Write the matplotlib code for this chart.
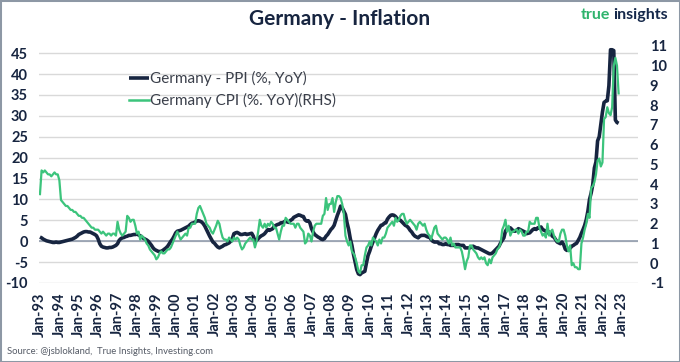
import matplotlib
matplotlib.use("Agg")
import matplotlib.pyplot as plt
from matplotlib.patches import Rectangle

# ---------------- data (monthly, Jan-93 onwards) ----------------
ppi_values = [
    1.0, 0.8, 0.5, 0.3, 0.1, 0.0, -0.1, -0.2, -0.3, -0.3, -0.2, -0.3,      # 1993
    -0.3, -0.2, -0.1, 0.0, 0.1, 0.2, 0.3, 0.4, 0.5, 0.7, 0.9, 1.2,         # 1994
    1.6, 1.8, 2.0, 2.2, 2.3, 2.3, 2.2, 2.2, 2.0, 1.8, 1.6, 1.3,            # 1995
    0.5, -0.6, -1.2, -1.4, -1.5, -1.6, -1.6, -1.5, -1.5, -1.4, -1.2, -1.0, # 1996
    -0.6, 0.2, 0.6, 0.8, 0.9, 1.1, 1.2, 1.4, 1.4, 1.5, 1.6, 1.6,           # 1997
    1.7, 1.5, 1.3, 1.0, 0.7, 0.5, 0.3, 0.0, -0.5, -1.0, -1.6, -2.0,        # 1998
    -2.2, -2.4, -2.5, -2.4, -2.2, -1.9, -1.6, -1.2, -0.6, 0.0, 0.5, 1.2,   # 1999
    2.0, 2.4, 2.5, 2.6, 2.8, 3.0, 3.2, 3.4, 3.6, 4.0, 4.3, 4.4,            # 2000
    4.6, 4.8, 4.9, 4.8, 4.6, 4.2, 3.6, 2.8, 2.0, 1.2, 0.5, -0.2,           # 2001
    -0.5, -1.0, -1.4, -1.6, -1.4, -1.2, -0.9, -0.8, -0.6, -0.4, 0.0, 0.6,  # 2002
    1.8, 2.0, 2.1, 1.9, 1.6, 1.6, 1.7, 1.8, 1.6, 1.7, 1.8, 1.9,            # 2003
    1.2, 0.0, 0.2, 0.6, 1.0, 1.3, 1.5, 1.8, 2.3, 2.8, 2.6, 2.8,            # 2004
    3.0, 3.6, 3.8, 4.0, 4.1, 4.4, 4.4, 4.6, 4.9, 4.6, 4.5, 5.0,            # 2005
    5.2, 5.7, 5.9, 6.1, 6.3, 6.2, 6.0, 5.9, 5.1, 4.8, 4.9, 4.4,            # 2006
    3.0, 2.2, 1.6, 1.3, 1.0, 0.8, 0.5, 0.4, 0.6, 1.2, 1.6, 2.2,            # 2007
    2.8, 3.2, 3.8, 5.0, 6.2, 7.2, 8.4, 8.0, 7.2, 6.4, 4.4, 2.8,            # 2008
    0.6, -1.0, -3.2, -5.0, -6.8, -7.8, -8.0, -7.6, -7.4, -7.2, -5.2, -3.4, # 2009
    -2.4, -1.2, -0.2, 0.8, 1.8, 2.6, 3.2, 3.8, 3.9, 4.3, 4.4, 5.3,         # 2010
    5.8, 6.2, 6.3, 6.2, 5.9, 5.4, 5.2, 5.0, 4.6, 4.2, 3.8, 3.6,            # 2011
    3.2, 2.6, 2.2, 1.6, 1.2, 1.0, 0.8, 1.2, 1.4, 1.4, 1.4, 1.2,            # 2012
    1.0, 1.0, 0.4, 0.0, -0.2, -0.2, -0.2, -0.6, -0.6, -0.8, -0.8, -0.6,    # 2013
    -0.8, -0.8, -1.0, -1.0, -1.0, -0.8, -0.8, -0.8, -1.0, -1.0, -1.0, -1.6,# 2014
    -1.6, -1.6, -1.6, -1.4, -1.2, -1.4, -1.6, -1.6, -1.8, -2.0, -2.2, -2.4,# 2015
    -2.6, -2.8, -3.0, -3.0, -2.8, -2.4, -2.0, -1.6, -1.2, -0.4, 0.2, 0.8,  # 2016
    2.4, 3.0, 3.0, 3.2, 2.8, 2.4, 2.4, 2.6, 3.0, 2.8, 2.6, 2.4,            # 2017
    2.2, 1.8, 1.9, 2.0, 2.4, 2.8, 3.0, 2.8, 3.2, 3.2, 3.4, 2.8,            # 2018
    2.6, 2.4, 2.0, 2.2, 1.9, 1.2, 1.0, 0.4, -0.2, -0.4, -0.6, -0.2,        # 2019
    -0.8, -1.9, -2.2, -1.8, -1.7, -1.2, -1.0, -0.7, -0.5, 0.2, 0.9, 1.9,   # 2020
    2.8, 3.8, 5.2, 7.2, 10.0, 11.5, 13.5, 17.5, 19.0, 24.0, 25.0, 28.0,    # 2021
    30.9, 33.2, 33.5, 33.6, 37.2, 45.8, 45.8, 45.6, 29.0, 28.4, 28.2,      # 2022
]

cpi_values = [
    3.5, 4.7, 4.6, 4.7, 4.6, 4.5, 4.5, 4.4, 4.5, 4.6, 4.5, 4.5,            # 1993
    4.2, 3.2, 3.1, 3.0, 2.9, 2.9, 2.8, 2.7, 2.7, 2.6, 2.6, 2.5,            # 1994
    2.4, 2.4, 2.3, 2.3, 2.2, 2.1, 2.0, 1.9, 1.8, 1.8, 1.7, 1.7,            # 1995
    1.7, 1.6, 1.5, 1.6, 1.5, 1.4, 1.5, 1.5, 1.4, 1.5, 1.5, 1.4,            # 1996
    2.1, 1.7, 1.5, 1.4, 1.5, 1.6, 2.4, 2.3, 2.1, 2.2, 2.2, 1.9,            # 1997
    1.5, 1.6, 1.2, 1.4, 1.3, 1.2, 1.0, 0.9, 0.7, 0.6, 0.5, 0.4,            # 1998
    0.2, 0.3, 0.5, 0.6, 0.5, 0.5, 0.6, 0.7, 0.7, 0.8, 1.0, 1.2,            # 1999
    1.4, 1.6, 1.4, 1.2, 1.3, 1.4, 1.5, 1.4, 1.8, 1.8, 2.0, 2.0,            # 2000
    2.0, 2.5, 2.8, 2.9, 2.7, 2.5, 2.3, 2.0, 1.9, 1.8, 1.6, 1.5,            # 2001
    1.7, 1.9, 2.15, 2.0, 1.6, 1.3, 1.2, 1.2, 1.1, 1.3, 1.2, 1.1,           # 2002
    1.3, 1.2, 1.3, 1.2, 0.9, 0.7, 0.8, 1.0, 1.1, 1.2, 1.3, 1.2,            # 2003
    1.2, 0.8, 1.1, 1.6, 2.2, 1.9, 1.8, 2.0, 1.8, 2.0, 1.9, 2.1,            # 2004
    2.0, 1.8, 1.8, 1.5, 1.2, 1.6, 1.9, 1.9, 2.3, 2.2, 2.1, 2.0,            # 2005
    2.0, 2.0, 1.8, 2.0, 2.0, 1.8, 1.7, 1.6, 1.0, 1.1, 1.5, 1.4,            # 2006
    1.1, 1.6, 1.9, 2.0, 2.0, 2.0, 2.0, 2.4, 2.5, 3.3, 2.7, 3.0,            # 2007
    3.0, 3.3, 2.6, 3.1, 3.4, 3.4, 3.3, 3.0, 2.5, 1.4, 1.1, 0.9,            # 2008
    1.1, 0.6, 0.5, 0.3, 0.0, -0.4, -0.5, -0.1, -0.1, 0.4, 0.8, 0.9,        # 2009
    1.1, 0.9, 1.3, 1.2, 1.1, 0.9, 1.2, 1.0, 1.3, 1.3, 1.5, 1.8,            # 2010
    1.9, 2.0, 2.1, 1.9, 2.3, 2.1, 2.2, 2.4, 2.5, 2.5, 2.2, 2.0,            # 2011
    2.1, 2.2, 2.1, 2.0, 1.9, 1.7, 2.0, 2.1, 2.0, 1.9, 2.0, 1.7,            # 2012
    1.5, 1.4, 1.2, 1.5, 1.8, 1.9, 1.5, 1.4, 1.3, 1.2, 1.3, 1.3,            # 2013
    1.2, 1.0, 1.3, 0.9, 1.0, 0.8, 0.8, 0.8, 0.8, 0.6, 0.2, -0.3,           # 2014
    0.1, 0.3, 0.9, 0.9, 0.7, 0.6, 0.5, 0.3, 0.2, 0.3, 0.2, 0.3,            # 2015
    0.0, -0.1, 0.2, 0.0, 0.3, 0.4, 0.5, 0.7, 0.8, 1.0, 1.7, 1.9,           # 2016
    2.2, 1.6, 1.9, 1.4, 1.6, 1.6, 1.7, 1.7, 1.5, 1.7, 1.6, 1.4,            # 2017
    1.4, 1.6, 1.6, 2.1, 2.0, 2.0, 2.0, 2.3, 2.3, 1.8, 1.6, 1.4,            # 2018
    1.5, 1.3, 2.0, 1.4, 1.6, 1.7, 1.4, 1.2, 1.1, 1.1, 1.5, 1.7,            # 2019
    1.7, 1.4, 0.9, 0.6, 0.9, -0.1, 0.0, -0.2, -0.2, -0.3, -0.3, 1.0,       # 2020
    1.3, 1.7, 2.0, 2.5, 2.3, 3.8, 3.9, 4.1, 4.5, 5.2, 5.3, 4.9,            # 2021
    5.1, 7.3, 7.4, 7.9, 7.6, 7.5, 7.9, 10.0, 10.4, 10.0, 8.6,              # 2022
]

tick_years = list(range(1993, 2024))
tick_labels = ["Jan-%02d" % (y % 100) for y in tick_years]
left_ticks = list(range(-10, 50, 5))
right_ticks = list(range(-1, 12))

ppi_label = "Germany - PPI (%, YoY)"
cpi_label = "Germany CPI (%. YoY)(RHS)"
title = "Germany - Inflation"
source = "Source: @jsblokland,  True Insights, Investing.com"

# ---------------- style ----------------
NAVY = "#172540"
GREEN = "#3cc47c"
GRID = "#d9d9d9"
ZERO = "#8a96a8"
FONT = "Lato"

W, H = 680, 362
fig = plt.figure(figsize=(W / 100, H / 100), dpi=100)
fig.patch.set_facecolor("white")

top_px, bot_px, left_px, right_px = 46, 283, 39, 638
ax = fig.add_axes([left_px / W, 1 - bot_px / H, (right_px - left_px) / W, (bot_px - top_px) / H])
ax2 = ax.twinx()

x_ppi = list(range(len(ppi_values)))
x_cpi = list(range(len(cpi_values)))

ax.set_ylim(-10, 46.7)
ax2.set_ylim(-1, 11)
ax.set_xlim(-0.6, 370)

ax.set_yticks(left_ticks)
ax.yaxis.grid(True, color=GRID, lw=1.0)
ax.set_axisbelow(True)
ax.axhline(0, color=ZERO, lw=1.1, zorder=1)

l1, = ax.plot(x_ppi, ppi_values, color=NAVY, lw=2.6, solid_joinstyle="round", solid_capstyle="butt", zorder=3)
l2, = ax2.plot(x_cpi, cpi_values, color=GREEN, lw=1.6, solid_joinstyle="round", zorder=3)

for a in (ax, ax2):
    for s in a.spines.values():
        s.set_visible(False)
    a.tick_params(length=0)

ax.set_xticks([12 * i for i in range(len(tick_labels))])
ax.set_xticklabels(tick_labels, rotation=90, fontsize=10.5, fontweight="bold", color=NAVY, family=FONT)
ax.tick_params(axis="x", pad=6.5)
ax.set_yticklabels([str(t) for t in left_ticks], fontsize=10.5, fontweight="bold", color=NAVY, family=FONT)
ax.tick_params(axis="y", pad=8)
ax2.set_yticks(right_ticks)
ax2.set_yticklabels([str(t) for t in right_ticks], fontsize=10.5, fontweight="bold", color=NAVY, family=FONT)
ax2.tick_params(axis="y", pad=8.5)

leg = ax.legend([l1, l2], [ppi_label, cpi_label], loc="upper left",
                bbox_to_anchor=(129 / W, 1 - 71 / H), bbox_transform=fig.transFigure,
                frameon=False, borderpad=0, borderaxespad=0, handlelength=1.3,
                handletextpad=0.1, labelspacing=0.45,
                prop={"family": FONT, "size": 11})
for t in leg.get_texts():
    t.set_color("#3a3f4a")
leg.get_lines()[0].set_linewidth(2.6)
leg.get_lines()[1].set_linewidth(1.8)
leg.set_zorder(10)

fig.text(340 / W, 1 - 19 / H, title, ha="center", va="center", fontsize=15,
         fontweight="bold", color=NAVY, family=FONT)

# logo text: "true" (green) + "insights" (navy)
t_ins = fig.text(668 / W, 1 - 15 / H, "insights", ha="right", va="center", fontsize=11.5,
                 fontweight="bold", color="#15284a", family=FONT)
renderer = fig.canvas.get_renderer()
bb = t_ins.get_window_extent(renderer=renderer)
fig.text((bb.x0 - 3) / W, 1 - 15 / H, "true", ha="right", va="center", fontsize=11.5,
         fontweight="bold", color="#2fb36c", family=FONT)

fig.text(7 / W, 1 - 352 / H, source, ha="left", va="center", fontsize=6.8,
         color="#555b66", family=FONT)

fig.add_artist(Rectangle((0, 0), 1, 1, transform=fig.transFigure, fill=False,
                         edgecolor="#8d98a5", lw=2.2, clip_on=False))

fig.savefig("out.png", dpi=100)
